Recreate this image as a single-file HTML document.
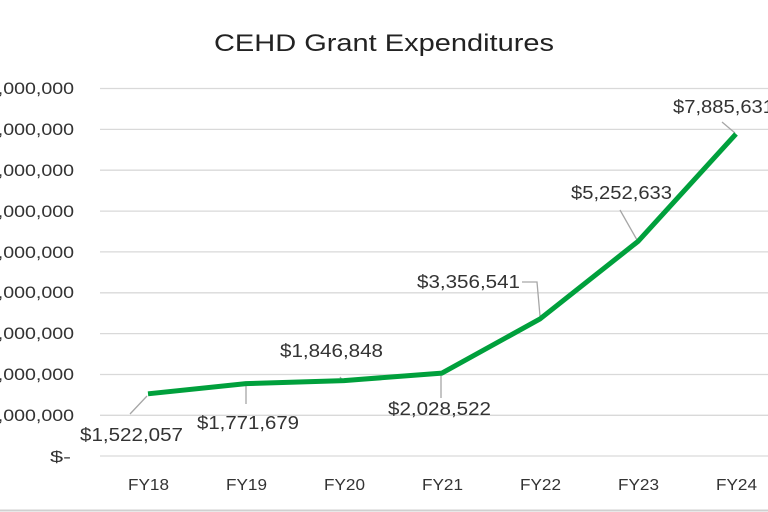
<!DOCTYPE html>
<html><head><meta charset="utf-8"><style>
html,body{margin:0;padding:0;background:#fff;}
svg{display:block;font-family:"Liberation Sans",sans-serif;}
</style></head><body>
<svg width="768" height="512" viewBox="0 0 768 512" xmlns="http://www.w3.org/2000/svg">
<rect width="768" height="512" fill="#fff"/>
<text x="214" y="51" font-size="24" textLength="340" lengthAdjust="spacingAndGlyphs" fill="#222">CEHD Grant Expenditures</text>
<g stroke="#d9d9d9" stroke-width="1.3">
<line x1="100" x2="768" y1="88.5" y2="88.5"/>
<line x1="100" x2="768" y1="129.4" y2="129.4"/>
<line x1="100" x2="768" y1="170.2" y2="170.2"/>
<line x1="100" x2="768" y1="211.1" y2="211.1"/>
<line x1="100" x2="768" y1="251.9" y2="251.9"/>
<line x1="100" x2="768" y1="292.8" y2="292.8"/>
<line x1="100" x2="768" y1="333.6" y2="333.6"/>
<line x1="100" x2="768" y1="374.5" y2="374.5"/>
<line x1="100" x2="768" y1="415.3" y2="415.3"/>
<line x1="100" x2="768" y1="456" y2="456"/>
</g>
<g font-size="17" fill="#333">
<text x="-24" y="94" textLength="98" lengthAdjust="spacingAndGlyphs">$9,000,000</text>
<text x="-24" y="135" textLength="98" lengthAdjust="spacingAndGlyphs">$8,000,000</text>
<text x="-24" y="176" textLength="98" lengthAdjust="spacingAndGlyphs">$7,000,000</text>
<text x="-24" y="217" textLength="98" lengthAdjust="spacingAndGlyphs">$6,000,000</text>
<text x="-24" y="258" textLength="98" lengthAdjust="spacingAndGlyphs">$5,000,000</text>
<text x="-24" y="298" textLength="98" lengthAdjust="spacingAndGlyphs">$4,000,000</text>
<text x="-24" y="339" textLength="98" lengthAdjust="spacingAndGlyphs">$3,000,000</text>
<text x="-24" y="380" textLength="98" lengthAdjust="spacingAndGlyphs">$2,000,000</text>
<text x="-24" y="421" textLength="98" lengthAdjust="spacingAndGlyphs">$1,000,000</text>
<text x="50" y="462" font-size="16" textLength="21" lengthAdjust="spacingAndGlyphs">$-</text>
</g>
<g font-size="16" fill="#333">
<text x="128" y="490" textLength="41" lengthAdjust="spacingAndGlyphs">FY18</text><text x="226" y="490" textLength="41" lengthAdjust="spacingAndGlyphs">FY19</text><text x="324" y="490" textLength="41" lengthAdjust="spacingAndGlyphs">FY20</text>
<text x="422" y="490" textLength="41" lengthAdjust="spacingAndGlyphs">FY21</text><text x="520" y="490" textLength="41" lengthAdjust="spacingAndGlyphs">FY22</text><text x="618" y="490" textLength="41" lengthAdjust="spacingAndGlyphs">FY23</text><text x="716" y="490" textLength="41" lengthAdjust="spacingAndGlyphs">FY24</text>
</g>
<g stroke="#a6a6a6" stroke-width="1.3" fill="none">
<line x1="130" y1="414" x2="147" y2="396"/>
<line x1="246" y1="404" x2="246" y2="386"/>
<line x1="340" y1="377" x2="343" y2="381"/>
<line x1="441" y1="398" x2="441" y2="375"/>
<polyline points="522,282 537,282 540,316"/>
<line x1="620" y1="210" x2="637" y2="240"/>
<line x1="722" y1="122" x2="735" y2="133"/>
</g>
<polyline fill="none" stroke="#00a03c" stroke-width="5" stroke-linejoin="round" points="148,393.8 246,383.6 344,380.6 442,373.1 540,318.9 638,241.4 736,133.9"/>
<g font-size="18" fill="#333">
<text x="80" y="441" textLength="103" lengthAdjust="spacingAndGlyphs">$1,522,057</text>
<text x="197" y="429" textLength="102" lengthAdjust="spacingAndGlyphs">$1,771,679</text>
<text x="280" y="357" textLength="103" lengthAdjust="spacingAndGlyphs">$1,846,848</text>
<text x="388" y="415" textLength="103" lengthAdjust="spacingAndGlyphs">$2,028,522</text>
<text x="417" y="288" textLength="103" lengthAdjust="spacingAndGlyphs">$3,356,541</text>
<text x="571" y="199" textLength="101" lengthAdjust="spacingAndGlyphs">$5,252,633</text>
<text x="673" y="113" textLength="101" lengthAdjust="spacingAndGlyphs">$7,885,631</text>
</g>
<line x1="0" y1="510.5" x2="768" y2="510.5" stroke="#d0d0d0" stroke-width="2"/>
</svg>
</body></html>
